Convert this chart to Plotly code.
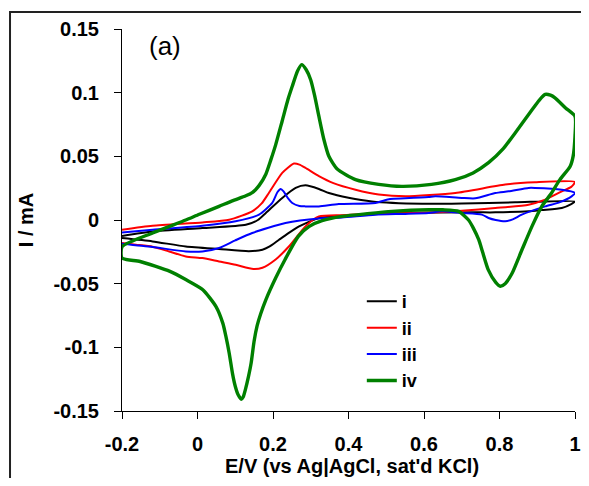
import plotly.graph_objects as go

# ---- data (E in V vs Ag|AgCl, I in mA), each CV drawn as a closed loop ----
i_E = [-0.2, -0.119, 0.013, 0.128, 0.16, 0.181, 0.2245, 0.26, 0.286, 0.3216, 0.348, 0.40, 0.462, 0.595, 0.70, 0.8415, 1.0,
       0.99, 0.965, 0.912, 0.877, 0.789, 0.736, 0.559, 0.383, 0.3216, 0.295, 0.269, 0.24, 0.216, 0.19, 0.172, 0.136, 0.057,
       -0.031, -0.119, -0.2]
i_I = [-0.0125, -0.009, -0.0063, -0.0037, 0.0, 0.0055, 0.0173, 0.0252, 0.0272, 0.0244, 0.0212, 0.0175, 0.0146, 0.0128, 0.013, 0.0139, 0.0146,
       0.0125, 0.0094, 0.0078, 0.0068, 0.006, 0.006, 0.0055, 0.0034, 0.0016, -0.0015, -0.005, -0.0105, -0.0155, -0.021, -0.0234, -0.0245, -0.0228,
       -0.0208, -0.0168, -0.0142]

ii_E = [-0.2, -0.119, 0.013, 0.084, 0.145, 0.17, 0.189, 0.2245, 0.2555, 0.27, 0.286, 0.3216, 0.36, 0.4186, 0.48, 0.551, 0.683, 0.815, 0.894, 1.0,
        0.99, 0.965, 0.921, 0.877, 0.789, 0.70, 0.612, 0.471, 0.383, 0.3216, 0.286, 0.242, 0.207, 0.172, 0.148, 0.101, 0.057, 0.013,
        -0.031, -0.075, -0.119, -0.163, -0.2]
ii_I = [-0.0076, -0.0045, -0.0019, 0.0002, 0.0068, 0.013, 0.0212, 0.037, 0.0443, 0.0435, 0.0409, 0.0345, 0.029, 0.0238, 0.020, 0.0186, 0.0212, 0.0278, 0.0296, 0.0299,
        0.026, 0.0225, 0.016, 0.012, 0.0094, 0.0073, 0.0058, 0.005, 0.0038, 0.0028, -0.005, -0.0208, -0.031, -0.0375, -0.0385, -0.0352, -0.0326, -0.0299,
        -0.0286, -0.0247, -0.021, -0.0194, -0.0181]

iii_E = [-0.2, -0.119, 0.013, 0.101, 0.163, 0.198, 0.212, 0.2203, 0.228, 0.24, 0.251, 0.27, 0.286, 0.3216, 0.374, 0.471, 0.51, 0.55, 0.612,
         0.63, 0.70, 0.736, 0.789, 0.824, 0.877, 0.894, 0.965, 1.0,
         0.991, 0.96, 0.921, 0.859, 0.835, 0.815, 0.79, 0.771, 0.753, 0.70, 0.647, 0.612, 0.55, 0.471, 0.383, 0.3216, 0.233, 0.145,
         0.10, 0.057, 0.013, -0.031, -0.119, -0.2]
iii_I = [-0.0098, -0.0076, -0.0045, -0.001, 0.0042, 0.0134, 0.022, 0.0244, 0.0225, 0.017, 0.0134, 0.011, 0.0107, 0.0107, 0.0125, 0.0134, 0.0165, 0.017, 0.018,
         0.0186, 0.0173, 0.017, 0.0212, 0.0225, 0.0252, 0.0252, 0.0238, 0.0212,
         0.0186, 0.014, 0.0107, 0.0042, 0.0005, -0.001, 0.0, 0.0016, 0.0042, 0.0055, 0.0068, 0.0055, 0.0048, 0.0042, 0.002, 0.0012, -0.0024, -0.0102,
         -0.016, -0.022, -0.0247, -0.0247, -0.0212, -0.0186]

iv_E = [-0.2, -0.119, -0.031, 0.005, 0.057, 0.092, 0.128, 0.145, 0.163, 0.181, 0.194, 0.207, 0.2245, 0.24, 0.251, 0.265, 0.276, 0.288,
        0.30, 0.31, 0.3215, 0.335, 0.348, 0.37, 0.4186, 0.48, 0.541, 0.62, 0.683, 0.73, 0.771, 0.81, 0.8415, 0.88, 0.905, 0.921,
        0.935, 0.947, 0.975, 1.0,
        1.0, 0.995, 0.987, 0.96, 0.935, 0.912, 0.886, 0.86, 0.833, 0.815, 0.802, 0.79, 0.77, 0.755, 0.745, 0.73, 0.718, 0.692,
        0.65, 0.613, 0.515, 0.45, 0.383, 0.33, 0.296, 0.267, 0.232, 0.207, 0.181, 0.167, 0.158, 0.15, 0.142, 0.135, 0.127, 0.121, 0.116,
        0.108, 0.1, 0.093, 0.084, 0.075, 0.067, 0.049, 0.014, -0.03, -0.073, -0.152, -0.2, -0.2]
iv_I = [-0.021, -0.0102, 0.0, 0.0045, 0.0107, 0.015, 0.019, 0.0215, 0.027, 0.036, 0.047, 0.059, 0.078, 0.095, 0.105, 0.117, 0.122, 0.118,
        0.110, 0.098, 0.0815, 0.063, 0.050, 0.040, 0.0317, 0.028, 0.0264, 0.028, 0.0317, 0.037, 0.045, 0.056, 0.0684, 0.084, 0.094, 0.0986,
        0.098, 0.096, 0.088, 0.0815,
        0.066, 0.05, 0.042, 0.0317, 0.02, 0.0107, -0.005, -0.023, -0.042, -0.050, -0.052, -0.049, -0.039, -0.025, -0.0155, -0.006, 0.0, 0.0068,
        0.008, 0.0081, 0.0068, 0.005, 0.0028, -0.0005, -0.005, -0.0129, -0.031, -0.0456, -0.0627, -0.074, -0.083, -0.095, -0.1125, -0.123, -0.133, -0.139, -0.1408,
        -0.1375, -0.1305, -0.121, -0.1046, -0.091, -0.081, -0.068, -0.0548, -0.047, -0.0404, -0.0326, -0.0299, -0.021]

series_names = ["i", "ii", "iii", "iv"]
series_E = [i_E, ii_E, iii_E, iv_E]
series_I = [i_I, ii_I, iii_I, iv_I]
series_colors = ["#000000", "#ff0000", "#0000ff", "#008000"]
series_widths = [2, 2, 2, 3.4]

x_tickvals = [-0.2, 0, 0.2, 0.4, 0.6, 0.8, 1.0]
x_ticktext = ["-0.2", "0", "0.2", "0.4", "0.6", "0.8", "1"]
y_tickvals = [-0.15, -0.1, -0.05, 0, 0.05, 0.1, 0.15]
y_ticktext = ["-0.15", "-0.1", "-0.05", "0", "0.05", "0.1", "0.15"]

FONT = "Arial, Liberation Sans, sans-serif"

fig = go.Figure()
for name, E, I, c, w in zip(series_names, series_E, series_I, series_colors, series_widths):
    fig.add_trace(go.Scatter(x=E, y=I, mode="lines", name=name,
                             line=dict(color=c, width=w, shape="spline", smoothing=0.6)))

axis_common = dict(showline=True, linecolor="black", linewidth=1, ticks="outside", ticklen=7,
                   tickcolor="black", tickwidth=1, showgrid=False, zeroline=False, mirror=False,
                   ticklabeloverflow="allow", automargin=False,
                   tickfont=dict(family=FONT, size=20, color="black", weight="bold"))

fig.update_layout(
    width=573, height=470,
    margin=dict(l=114, r=6, t=21, b=67, autoexpand=False),
    paper_bgcolor="white", plot_bgcolor="white",
    font=dict(family=FONT, color="black"),
    xaxis=dict(range=[-0.2, 1.0], tickvals=x_tickvals, ticktext=x_ticktext, ticklabelstandoff=8,
               **axis_common),
    yaxis=dict(range=[-0.15, 0.15], tickvals=y_tickvals, ticktext=y_ticktext, ticklabelstandoff=11,
               title=dict(text="I / mA", standoff=14,
                          font=dict(family=FONT, size=20, color="black", weight="bold")),
               **axis_common),
    legend=dict(x=0.5294, y=0.335, xanchor="left", yanchor="top", bgcolor="rgba(0,0,0,0)",
                font=dict(family=FONT, size=18, color="black", weight="bold"), borderwidth=0),
    showlegend=True,
    annotations=[
        dict(text="(a)", xref="paper", yref="paper", x=0.0949, y=0.9555,
             xanchor="center", yanchor="middle", showarrow=False,
             font=dict(family=FONT, size=26, color="black")),
        dict(text="E/V (vs Ag|AgCl, sat'd KCl)", xref="paper", yref="paper", x=0.5077, y=-0.1745,
             xanchor="center", yanchor="bottom", showarrow=False, borderpad=0,
             font=dict(family=FONT, size=20, color="black", weight="bold")),
    ],
    shapes=[dict(type="rect", xref="paper", yref="paper", x0=-0.2472, x1=1.08, y0=-0.3, y1=1.0445,
                 line=dict(color="#222222", width=2), fillcolor="rgba(0,0,0,0)", layer="below")],
)

fig.write_html("out.html")
